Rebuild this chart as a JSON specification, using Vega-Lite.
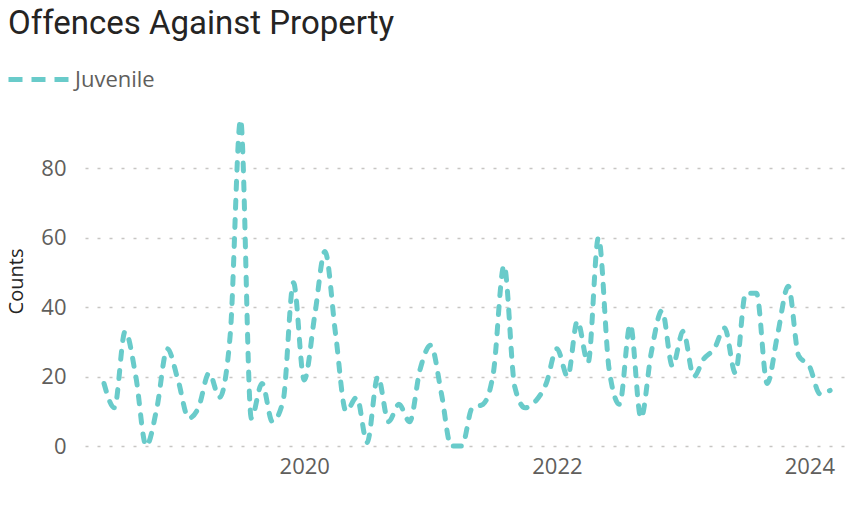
{
  "$schema": "https://vega.github.io/schema/vega-lite/v6.json",
  "autosize": {"type": "none"},
  "width": 761,
  "height": 330,
  "padding": {"left": 85, "top": 116, "right": 0, "bottom": 59},
  "background": "white",
  "title": {
    "text": "Offences Against Property",
    "anchor": "start",
    "frame": "group",
    "orient": "top",
    "dx": -77,
    "offset": -20,
    "baseline": "alphabetic",
    "font": "Roboto",
    "fontSize": 33,
    "fontWeight": "normal",
    "color": "#252423"
  },
  "config": {
    "view": {"stroke": null},
    "font": "Open Sans"
  },
  "data": {
    "values": [
      {"month": "2018-06-01", "series": "Juvenile", "count": 18},
      {"month": "2018-07-01", "series": "Juvenile", "count": 11},
      {"month": "2018-08-01", "series": "Juvenile", "count": 33},
      {"month": "2018-09-01", "series": "Juvenile", "count": 20},
      {"month": "2018-10-01", "series": "Juvenile", "count": 0},
      {"month": "2018-11-01", "series": "Juvenile", "count": 11},
      {"month": "2018-12-01", "series": "Juvenile", "count": 28},
      {"month": "2019-01-01", "series": "Juvenile", "count": 19},
      {"month": "2019-02-01", "series": "Juvenile", "count": 8},
      {"month": "2019-03-01", "series": "Juvenile", "count": 11},
      {"month": "2019-04-01", "series": "Juvenile", "count": 21},
      {"month": "2019-05-01", "series": "Juvenile", "count": 14},
      {"month": "2019-06-01", "series": "Juvenile", "count": 32},
      {"month": "2019-07-01", "series": "Juvenile", "count": 94},
      {"month": "2019-08-01", "series": "Juvenile", "count": 8},
      {"month": "2019-09-01", "series": "Juvenile", "count": 18},
      {"month": "2019-10-01", "series": "Juvenile", "count": 7},
      {"month": "2019-11-01", "series": "Juvenile", "count": 13},
      {"month": "2019-12-01", "series": "Juvenile", "count": 47},
      {"month": "2020-01-01", "series": "Juvenile", "count": 19},
      {"month": "2020-02-01", "series": "Juvenile", "count": 38},
      {"month": "2020-03-01", "series": "Juvenile", "count": 56},
      {"month": "2020-04-01", "series": "Juvenile", "count": 32},
      {"month": "2020-05-01", "series": "Juvenile", "count": 10},
      {"month": "2020-06-01", "series": "Juvenile", "count": 14},
      {"month": "2020-07-01", "series": "Juvenile", "count": 1},
      {"month": "2020-08-01", "series": "Juvenile", "count": 20},
      {"month": "2020-09-01", "series": "Juvenile", "count": 7},
      {"month": "2020-10-01", "series": "Juvenile", "count": 12},
      {"month": "2020-11-01", "series": "Juvenile", "count": 7},
      {"month": "2020-12-01", "series": "Juvenile", "count": 22},
      {"month": "2021-01-01", "series": "Juvenile", "count": 29},
      {"month": "2021-02-01", "series": "Juvenile", "count": 15},
      {"month": "2021-03-01", "series": "Juvenile", "count": 0},
      {"month": "2021-04-01", "series": "Juvenile", "count": 0},
      {"month": "2021-05-01", "series": "Juvenile", "count": 11},
      {"month": "2021-06-01", "series": "Juvenile", "count": 12},
      {"month": "2021-07-01", "series": "Juvenile", "count": 21},
      {"month": "2021-08-01", "series": "Juvenile", "count": 52},
      {"month": "2021-09-01", "series": "Juvenile", "count": 17},
      {"month": "2021-10-01", "series": "Juvenile", "count": 11},
      {"month": "2021-11-01", "series": "Juvenile", "count": 13},
      {"month": "2021-12-01", "series": "Juvenile", "count": 18},
      {"month": "2022-01-01", "series": "Juvenile", "count": 28},
      {"month": "2022-02-01", "series": "Juvenile", "count": 20},
      {"month": "2022-03-01", "series": "Juvenile", "count": 36},
      {"month": "2022-04-01", "series": "Juvenile", "count": 24},
      {"month": "2022-05-01", "series": "Juvenile", "count": 60},
      {"month": "2022-06-01", "series": "Juvenile", "count": 22},
      {"month": "2022-07-01", "series": "Juvenile", "count": 12},
      {"month": "2022-08-01", "series": "Juvenile", "count": 35},
      {"month": "2022-09-01", "series": "Juvenile", "count": 8},
      {"month": "2022-10-01", "series": "Juvenile", "count": 27},
      {"month": "2022-11-01", "series": "Juvenile", "count": 39},
      {"month": "2022-12-01", "series": "Juvenile", "count": 23},
      {"month": "2023-01-01", "series": "Juvenile", "count": 33},
      {"month": "2023-02-01", "series": "Juvenile", "count": 20},
      {"month": "2023-03-01", "series": "Juvenile", "count": 25},
      {"month": "2023-04-01", "series": "Juvenile", "count": 28},
      {"month": "2023-05-01", "series": "Juvenile", "count": 34},
      {"month": "2023-06-01", "series": "Juvenile", "count": 21},
      {"month": "2023-07-01", "series": "Juvenile", "count": 44},
      {"month": "2023-08-01", "series": "Juvenile", "count": 44},
      {"month": "2023-09-01", "series": "Juvenile", "count": 18},
      {"month": "2023-10-01", "series": "Juvenile", "count": 32},
      {"month": "2023-11-01", "series": "Juvenile", "count": 46},
      {"month": "2023-12-01", "series": "Juvenile", "count": 26},
      {"month": "2024-01-01", "series": "Juvenile", "count": 23},
      {"month": "2024-02-01", "series": "Juvenile", "count": 15},
      {"month": "2024-03-01", "series": "Juvenile", "count": 16}
    ]
  },
  "mark": {
    "type": "line",
    "interpolate": "monotone",
    "strokeWidth": 5,
    "strokeCap": "round",
    "strokeDash": [8, 11],
    "clip": false
  },
  "encoding": {
    "x": {
      "field": "month",
      "type": "temporal",
      "scale": {
        "domain": [
          {"year": 2018, "month": 4, "date": 7},
          {"year": 2024, "month": 4, "date": 16}
        ]
      },
      "axis": {
        "title": null,
        "format": "%Y",
        "values": [
          {"year": 2020, "month": 1, "date": 1},
          {"year": 2022, "month": 1, "date": 1},
          {"year": 2024, "month": 1, "date": 1}
        ],
        "grid": false,
        "domain": false,
        "ticks": false,
        "labelPadding": 10,
        "labelFontSize": 22,
        "labelColor": "#605E5C",
        "labelFont": "Open Sans"
      }
    },
    "y": {
      "field": "count",
      "type": "quantitative",
      "scale": {"domain": [0, 95], "nice": false},
      "axis": {
        "title": "Counts",
        "values": [0, 20, 40, 60, 80],
        "domain": false,
        "ticks": false,
        "grid": true,
        "gridColor": "#C8C6C4",
        "gridDash": [3, 9],
        "gridWidth": 1.5,
        "labelPadding": 19,
        "labelFontSize": 22,
        "labelColor": "#605E5C",
        "labelFont": "Open Sans",
        "titleFont": "Open Sans",
        "titleFontSize": 20,
        "titleFontWeight": "normal",
        "titleColor": "#252423",
        "titlePadding": 14
      }
    },
    "color": {
      "field": "series",
      "type": "nominal",
      "scale": {"range": ["#69CBCA"]},
      "legend": {
        "title": null,
        "orient": "none",
        "legendX": -79,
        "legendY": -69,
        "symbolType": "stroke",
        "symbolSize": 3600,
        "symbolStrokeWidth": 5,
        "symbolDash": [14, 9],
        "symbolStrokeColor": "#69CBCA",
        "labelFontSize": 22,
        "labelColor": "#605E5C",
        "labelFont": "Open Sans",
        "labelOffset": 4
      }
    }
  }
}
